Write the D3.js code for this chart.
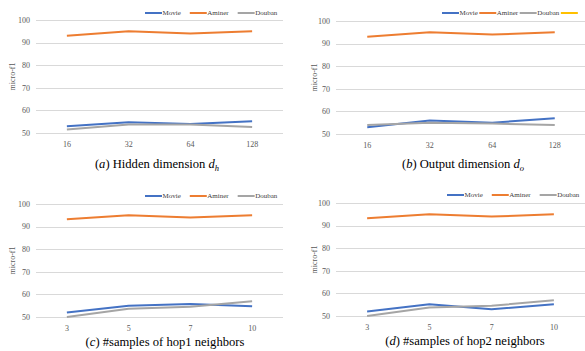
<!DOCTYPE html>
<html lang="en">
<head>
    <meta charset="UTF-8">
    <title>micro-f1 sensitivity</title>
    <style>
        body { margin: 0; background: #fff; }
        svg { display: block; font-family: "Liberation Serif", "DejaVu Serif", serif; }
        .grid line { stroke: #d9d9d9; stroke-width: 1; }
        .tick-label { fill: #595959; font-size: 8px; }
        .legend text { fill: #404040; font-size: 7px; }
        .caption { fill: #000; font-size: 12.6px; }
    </style>
</head>
<body>
    <svg id="chart" width="585" height="351"></svg>

    <script src="https://d3js.org/d3.v7.min.js"></script>
    <script>
        // series names and colours
        const seriesNames = ['Movie', 'Aminer', 'Douban'];
        const seriesColors = ['#4472C4', '#ED7D31', '#A5A5A5'];
        const yTicks = [50, 60, 70, 80, 90, 100];

        // (a) hidden dimension
        const dimCategories = ['16', '32', '64', '128'];
        const hiddenMovie = [53, 54.8, 54, 55.2];
        const hiddenAminer = [93, 95, 94, 95];
        const hiddenDouban = [51.6, 53.8, 53.8, 52.6];

        // (b) output dimension
        const outputMovie = [53, 56, 55, 57];
        const outputAminer = [93, 95, 94, 95];
        const outputDouban = [54, 55, 54.6, 54];

        // (c) / (d) number of sampled neighbours
        const sampleCategories = ['3', '5', '7', '10'];
        const hop1Movie = [52, 55, 55.8, 54.8];
        const hop1Aminer = [93.2, 95, 94, 95];
        const hop1Douban = [50, 53.6, 54.5, 57];
        const hop2Movie = [52, 55.2, 53, 55.2];
        const hop2Aminer = [93.2, 95, 94, 95];
        const hop2Douban = [50, 53.8, 54.5, 57];

        const svg = d3.select('#chart');

        const panels = [
            { cats: dimCategories, series: [hiddenMovie, hiddenAminer, hiddenDouban],
              x0: 36, x1: 283, yTop: 20, yBot: 133, titleX: 12,
              legendX: 145, legendY: 13, legendGap: 9, extraKey: null,
              capX: 157, capY: 168, letter: 'a', capText: ' Hidden dimension ', sym: 'd', sub: 'h' },
            { cats: dimCategories, series: [outputMovie, outputAminer, outputDouban],
              x0: 336, x1: 586, yTop: 21, yBot: 134, titleX: 314,
              legendX: 442, legendY: 13, legendGap: 1.5, extraKey: '#FFC000',
              capX: 463, capY: 168, letter: 'b', capText: ' Output dimension ', sym: 'd', sub: 'o' },
            { cats: sampleCategories, series: [hop1Movie, hop1Aminer, hop1Douban],
              x0: 36, x1: 283, yTop: 204, yBot: 317, titleX: 12,
              legendX: 145, legendY: 196, legendGap: 9, extraKey: null,
              capX: 165, capY: 346, letter: 'c', capText: ' #samples of hop1 neighbors', sym: null, sub: null },
            { cats: sampleCategories, series: [hop2Movie, hop2Aminer, hop2Douban],
              x0: 336, x1: 585, yTop: 203, yBot: 316, titleX: 314,
              legendX: 447, legendY: 195, legendGap: 9, extraKey: null,
              capX: 465, capY: 345, letter: 'd', capText: ' #samples of hop2 neighbors', sym: null, sub: null }
        ];

        panels.forEach(p => {
            const g = svg.append('g');

            const x = d3.scalePoint().domain(p.cats).range([p.x0, p.x1]).padding(0.5);
            const y = d3.scaleLinear().domain([50, 100]).range([p.yBot, p.yTop]);

            // horizontal gridlines
            g.append('g').attr('class', 'grid')
                .selectAll('line').data(yTicks).enter().append('line')
                .attr('x1', p.x0).attr('x2', p.x1)
                .attr('y1', d => Math.round(y(d)) + 0.5)
                .attr('y2', d => Math.round(y(d)) + 0.5);

            // y tick labels
            g.selectAll('.ylab').data(yTicks).enter().append('text')
                .attr('class', 'tick-label')
                .attr('x', p.x0 - 6)
                .attr('y', d => y(d) + 2.8)
                .attr('text-anchor', 'end')
                .text(d => d);

            // x tick labels
            g.selectAll('.xlab').data(p.cats).enter().append('text')
                .attr('class', 'tick-label')
                .attr('x', d => x(d))
                .attr('y', p.yBot + 14)
                .attr('text-anchor', 'middle')
                .text(d => d);

            // axis title
            g.append('text')
                .attr('class', 'tick-label')
                .attr('transform', `translate(${p.titleX + 2.8},${(p.yTop + p.yBot) / 2}) rotate(-90)`)
                .attr('text-anchor', 'middle')
                .text('micro-f1');

            // series lines
            const line = d3.line()
                .x((d, i) => x(p.cats[i]))
                .y(d => y(d));
            p.series.forEach((vals, i) => {
                g.append('path')
                    .datum(vals)
                    .attr('fill', 'none')
                    .attr('stroke', seriesColors[i])
                    .attr('stroke-width', 2)
                    .attr('stroke-linejoin', 'round')
                    .attr('d', line);
            });

            // legend
            const lg = g.append('g').attr('class', 'legend');
            let lx = p.legendX;
            seriesNames.forEach((name, i) => {
                lg.append('line')
                    .attr('x1', lx).attr('x2', lx + 17)
                    .attr('y1', p.legendY).attr('y2', p.legendY)
                    .attr('stroke', seriesColors[i]).attr('stroke-width', 2);
                const t = lg.append('text')
                    .attr('x', lx + 17.5).attr('y', p.legendY + 2.4)
                    .text(name);
                lx += 17.5 + t.node().getComputedTextLength() + p.legendGap;
            });
            if (p.extraKey) {
                lg.append('line')
                    .attr('x1', lx).attr('x2', lx + 17)
                    .attr('y1', p.legendY).attr('y2', p.legendY)
                    .attr('stroke', p.extraKey).attr('stroke-width', 2);
            }

            // caption
            const cap = g.append('text')
                .attr('class', 'caption')
                .attr('x', p.capX).attr('y', p.capY)
                .attr('text-anchor', 'middle');
            cap.append('tspan').text('(');
            cap.append('tspan').attr('font-style', 'italic').text(p.letter);
            cap.append('tspan').text(')' + p.capText);
            if (p.sym) {
                cap.append('tspan').attr('font-style', 'italic').text(p.sym);
                cap.append('tspan').attr('font-style', 'italic')
                    .attr('font-size', '8.5px').attr('dy', 3).text(p.sub);
            }
        });
    </script>
</body>
</html>
